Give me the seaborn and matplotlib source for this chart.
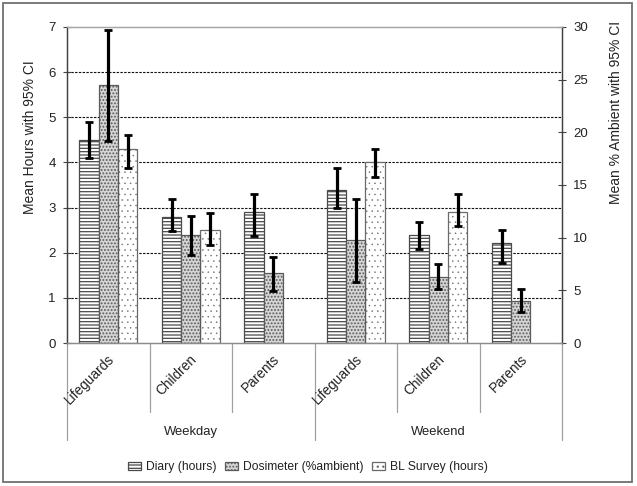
import numpy as np
import pandas as pd
import matplotlib
matplotlib.use("Agg")
import matplotlib.pyplot as plt
import matplotlib.transforms as mtransforms
from matplotlib.patches import Rectangle
from matplotlib.lines import Line2D
import seaborn as sns

# ---------------- data ----------------
days = ["Weekday", "Weekday", "Weekday", "Weekend", "Weekend", "Weekend"]
groups = ["Lifeguards", "Children", "Parents", "Lifeguards", "Children", "Parents"]
series = ["Diary (hours)", "Dosimeter (%ambient)", "BL Survey (hours)"]

diary_mean = [4.50, 2.80, 2.90, 3.40, 2.40, 2.21]
diary_lo = [4.10, 2.48, 2.37, 2.98, 2.08, 1.78]
diary_hi = [4.89, 3.19, 3.30, 3.88, 2.69, 2.50]

dosim_mean = [24.5, 10.3, 6.6, 9.8, 6.3, 4.0]
dosim_lo = [19.2, 8.4, 4.9, 5.8, 5.1, 2.9]
dosim_hi = [29.7, 12.1, 8.15, 13.7, 7.5, 5.1]

bl_mean = [4.29, 2.51, np.nan, 4.01, 2.90, np.nan]
bl_lo = [3.88, 2.18, np.nan, 3.68, 2.60, np.nan]
bl_hi = [4.60, 2.88, np.nan, 4.30, 3.30, np.nan]

left_ticks = [0, 1, 2, 3, 4, 5, 6, 7]
right_ticks = [0, 5, 10, 15, 20, 25, 30]

# ---------------- table ----------------
slots = [f"{d} {g}" for d, g in zip(days, groups)]
rows = []
for name, m, lo, hi in [(series[0], diary_mean, diary_lo, diary_hi),
                        (series[1], dosim_mean, dosim_lo, dosim_hi),
                        (series[2], bl_mean, bl_lo, bl_hi)]:
    for s, a, b, c in zip(slots, m, lo, hi):
        rows.append(dict(slot=s, series=name, mean=a, lo=b, hi=c))
df = pd.DataFrame(rows).dropna()
df_hours = df[df.series != series[1]]
df_pct = df[df.series == series[1]]

styles = {
    series[0]: dict(facecolor="white", hatch="-----", edgecolor="#4a4a4a"),
    series[1]: dict(facecolor="#d6d6d6", hatch=".....", edgecolor="#5a5a5a"),
    series[2]: dict(facecolor="white", hatch="...", edgecolor="#6a6a6a"),
}
hatch_lw = {series[0]: 0.9, series[1]: 0.9, series[2]: 0.3}

sns.set_style("white")
plt.rcParams["font.family"] = ["Liberation Sans", "DejaVu Sans"]
plt.rcParams["hatch.linewidth"] = 0.9

fig = plt.figure(figsize=(6.37, 4.86), dpi=100)
ax = fig.add_axes([67 / 637, 1 - 343 / 486, (562 - 67) / 637, (343 - 27) / 486])
ax2 = ax.twinx()

pal = {s: "white" for s in series}
sns.barplot(data=df_hours, x="slot", y="mean", hue="series", hue_order=series,
            order=slots, width=0.7, dodge=True, errorbar=None, legend=False,
            palette=pal, ax=ax, zorder=2)
sns.barplot(data=df_pct, x="slot", y="mean", hue="series", hue_order=series,
            order=slots, width=0.7, dodge=True, errorbar=None, legend=False,
            palette=pal, ax=ax2, zorder=2)

def apply_style(p, name):
    st = styles[name]
    p.set_facecolor(st["facecolor"])
    p.set_hatch(st["hatch"])
    p.set_edgecolor(st["edgecolor"])
    p.set_linewidth(0.9)
    if hasattr(p, "set_hatch_linewidth"):
        p.set_hatch_linewidth(hatch_lw[name])

def style_and_errors(axis, sub, candidates):
    for p in axis.patches:
        xc = p.get_x() + p.get_width() / 2
        i = int(round(xc))
        off = xc - i
        if off < -0.1:
            name = series[0]
        elif off > 0.1:
            name = series[2]
        else:
            name = series[1]
        if name not in candidates:
            continue
        apply_style(p, name)
        r = sub[(sub.slot == slots[i]) & (sub.series == name)]
        if len(r) == 0:
            continue
        r = r.iloc[0]
        axis.errorbar([xc], [r["mean"]], yerr=[[r["mean"] - r["lo"]], [r["hi"] - r["mean"]]],
                      fmt="none", ecolor="black", elinewidth=2.3, capsize=2.6,
                      capthick=2.0, zorder=5)

style_and_errors(ax, df_hours, [series[0], series[2]])
style_and_errors(ax2, df_pct, [series[1]])

# ---------------- axes ----------------
ax.set_ylim(0, 7)
ax2.set_ylim(0, 30)
ax.set_xlim(-0.5, len(slots) - 0.5)
ax2.set_xlim(-0.5, len(slots) - 0.5)
ax.set_yticks(left_ticks)
ax2.set_yticks(right_ticks)
ax.set_xticks([])
ax2.set_xticks([])
ax.set_xlabel("")
ax2.set_xlabel("")
ax.tick_params(axis="y", direction="inout", length=6, width=0.8, color="#444444",
               labelsize=9.5, pad=5, labelcolor="#222222")
ax2.tick_params(axis="y", direction="inout", length=6, width=0.8, color="#444444",
                labelsize=9.5, pad=5, labelcolor="#222222")

ax.set_ylabel("Mean Hours with 95% CI", fontsize=10, color="#222222")
ax.yaxis.set_label_coords((37 - 67) / 495, (343 - 137) / 316)
ax2.set_ylabel("Mean % Ambient with 95% CI", fontsize=10, color="#222222")
ax2.yaxis.set_label_coords((609 - 67) / 495, (343 - 112) / 316)

ax.yaxis.grid(True, color="#111111", linestyle=(0, (2.2, 1.2)), linewidth=0.8)
gl = ax.get_ygridlines()
gl[0].set_visible(False)
gl[-1].set_visible(False)
ax.set_axisbelow(True)
ax2.grid(False)

for a in (ax, ax2):
    a.spines["top"].set_color("#a6a6a6")
    a.spines["bottom"].set_color("#8c8c8c")
    a.spines["left"].set_color("#404040")
    a.spines["right"].set_color("#404040")
    for s in a.spines.values():
        s.set_linewidth(0.9)
    a.spines["top"].set_visible(True)
ax.patch.set_visible(False)
ax2.patch.set_visible(False)

# ---------------- category axis ----------------
trans = mtransforms.blended_transform_factory(ax.transData, ax.transAxes)
inner_y = -(412 - 343) / 316
outer_y = -(440 - 343) / 316
for b in range(len(slots) + 1):
    xb = b - 0.5
    y1 = outer_y if b % 3 == 0 else inner_y
    ax.add_line(Line2D([xb, xb], [0, y1], transform=trans, color="#a0a0a0",
                       linewidth=0.9, clip_on=False))
for i, g in enumerate(groups):
    ax.text(i + 0.05, -(357 - 343) / 316, g, transform=trans, rotation=45,
            rotation_mode="anchor", ha="right", va="center", fontsize=9.8,
            color="#222222")
for d in ["Weekday", "Weekend"]:
    idx = [i for i, v in enumerate(days) if v == d]
    ax.text(np.mean(idx), -(432 - 343) / 316, d, transform=trans, ha="center",
            va="center", fontsize=9.4, color="#222222")

# ---------------- legend ----------------
handles = []
for s in series:
    h = Rectangle((0, 0), 1, 1, linewidth=0.9, **styles[s])
    if hasattr(h, "set_hatch_linewidth"):
        h.set_hatch_linewidth(hatch_lw[s])
    handles.append(h)
fig.legend(handles, series, loc="center", bbox_to_anchor=(308 / 637, 1 - 467 / 486),
           ncol=3, frameon=False, fontsize=8.7, handlelength=1.1, handleheight=0.7,
           columnspacing=0.7, handletextpad=0.4, labelcolor="#222222")

# ---------------- outer frame ----------------
fig.patches.append(Rectangle((3 / 637, 4 / 486), 629 / 637, 479 / 486,
                             transform=fig.transFigure, fill=False,
                             edgecolor="#707070", linewidth=1.3))

fig.savefig("out.png", dpi=100)
